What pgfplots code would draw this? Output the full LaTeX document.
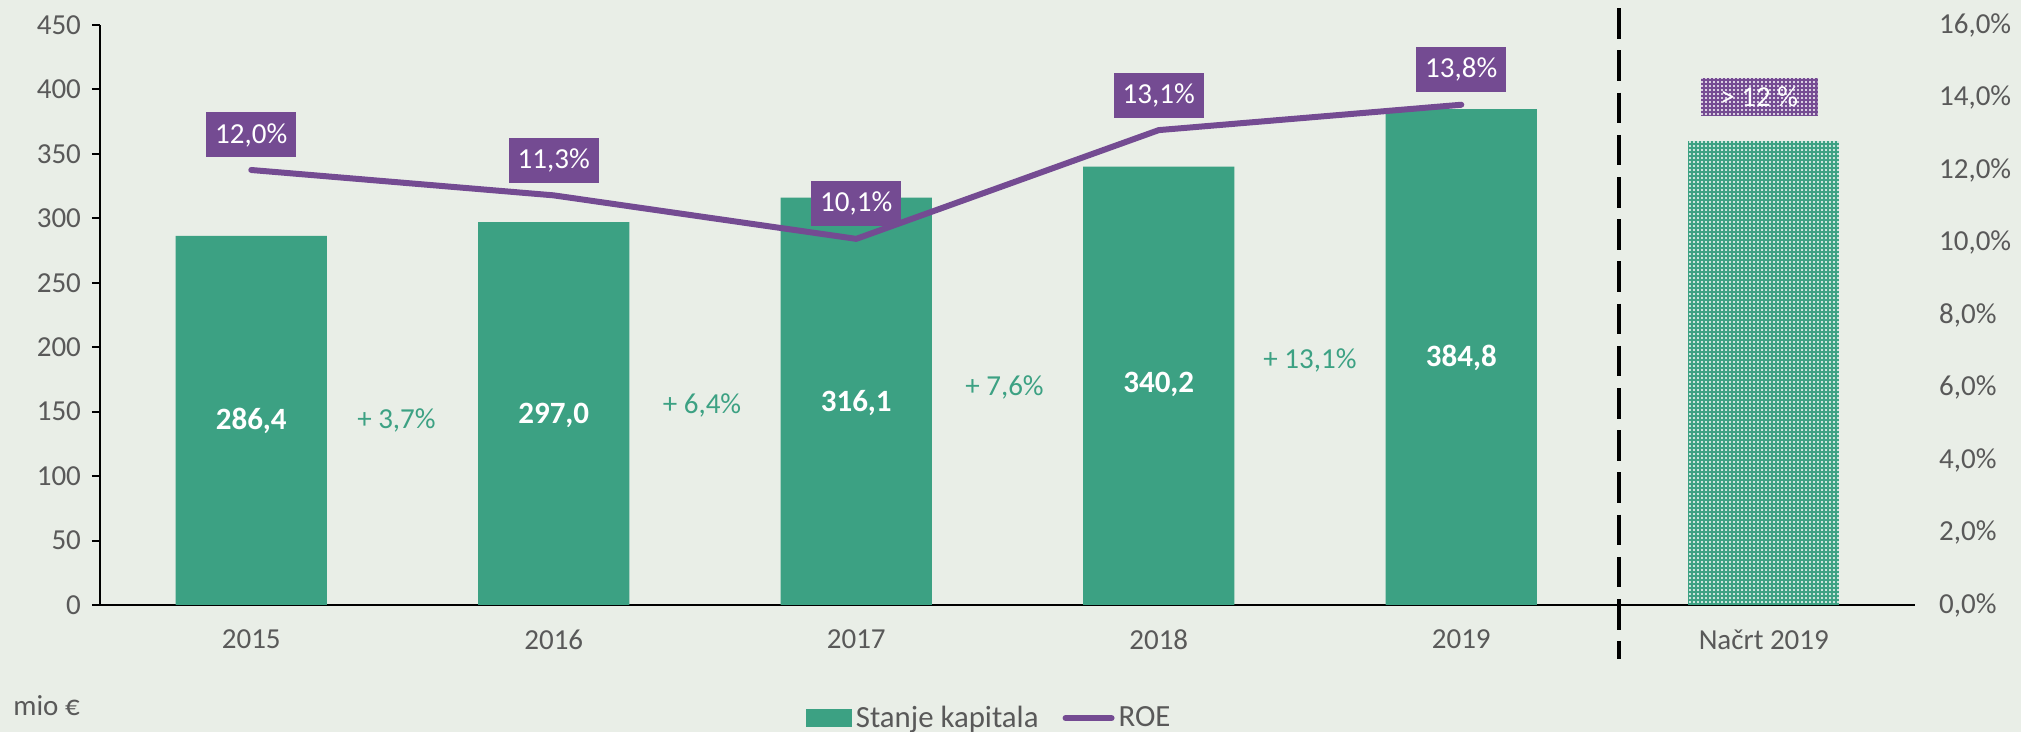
\documentclass[border=0pt]{standalone}
\usepackage{pgfplots}
\pgfplotsset{compat=1.18}
\usepackage{fontspec}
\setmainfont{Carlito}
\usetikzlibrary{patterns}
\definecolor{bg}{HTML}{E9EEE7}
\definecolor{bargreen}{HTML}{3CA183}
\definecolor{roepurple}{HTML}{744B92}
\definecolor{lbl}{HTML}{595959}
\pgfdeclarepatternformonly{finedots}{\pgfqpoint{-1pt}{-1pt}}{\pgfqpoint{3pt}{3pt}}{\pgfqpoint{2pt}{2pt}}{\pgfpathcircle{\pgfqpoint{1pt}{1pt}}{0.55pt}\pgfusepath{fill}}
\newcommand{\fs}{\fontsize{14.5}{17}\selectfont}

\begin{document}
\begin{tikzpicture}
\path[use as bounding box, fill=bg] (-50pt,-63.5pt) rectangle (960.5pt,302.5pt);
\begin{axis}[
 at={(0,0)}, anchor=south west,
 scale only axis, width=907.5pt, height=290pt,
 xmin=-0.5, xmax=5.5, ymin=0, ymax=450,
 axis x line*=bottom, axis y line*=left,
 axis line style={-, black, line width=1.1pt},
 xtick={0,...,5},
 xticklabels={2015,2016,2017,2018,2019,Načrt 2019},
 xtick style={draw=none},
 xticklabel style={yshift=-5pt},
 yticklabel style={xshift=-2pt},
 ytick={0,50,...,450},
 ytick style={black, line width=1pt},
 tick align=outside, major tick length=4pt,
 tick label style={font=\fs, text=lbl},
 /pgf/number format/assume math mode=true,
 clip=false,
]
\addplot[ybar, bar width=0.5, bar shift=0pt, fill=bargreen, draw=none] coordinates {(0,286.4) (1,297.0) (2,316.1) (3,340.2) (4,384.8)};
\addplot[ybar, bar width=0.5, bar shift=0pt, fill=bargreen, draw=none, postaction={pattern=finedots, pattern color=white}] coordinates {(5,360)};
\addplot[draw=none, nodes near coords, point meta=explicit symbolic,
  nodes near coords style={anchor=center, font=\fontsize{15.5}{18}\selectfont\bfseries, text=white}] table[meta=l] {
x y l
0 143 286,4
1 147 297,0
2 157 316,1
3 171 340,2
4 192 384,8
};
\addplot[draw=none, nodes near coords={+ \pgfplotspointmeta\%}, point meta=explicit symbolic,
  nodes near coords style={anchor=center, font=\fs, text=bargreen}] table[meta=l] {
x y l
0.48 143 3,7
1.49 155 6,4
2.49 169 7,6
3.5 190 13,1
};
\draw[line width=2pt, dash pattern=on 15.3pt off 5.8pt] (axis cs:4.52,463) -- (axis cs:4.52,-41.9);
\node[fill=roepurple, postaction={pattern=finedots, pattern color=white}, text=white, font=\fs, minimum width=58.5pt, minimum height=19pt, inner sep=0pt] at (axis cs:4.985,394) {> 12 \%};
\end{axis}
\begin{axis}[
 at={(0,0)}, anchor=south west,
 scale only axis, width=907.5pt, height=290pt,
 xmin=-0.5, xmax=5.5, ymin=0, ymax=16,
 axis x line=none, axis y line*=right,
 y axis line style={draw=none},
 ytick={0,2,...,16}, ytick style={draw=none},
 yticklabel={\pgfmathprintnumber[fixed,fixed zerofill,precision=1,use comma]{\tick}\%},
 yticklabel style={xshift=8.5pt},
 tick label style={font=\fs, text=lbl},
 /pgf/number format/assume math mode=true,
 clip=false,
 legend style={at={(0.4905,-0.195)}, anchor=center, draw=none, fill=none, font=\fontsize{15.4}{18}\selectfont, text=lbl,
   /tikz/every even column/.append style={column sep=10pt}},
 legend columns=2,
]
\addlegendimage{legend image code/.code={\fill[bargreen] (0pt,-4.25pt) rectangle (22.5pt,4.25pt);}}
\addlegendentry{Stanje kapitala}
\addplot[roepurple, line width=3pt, line cap=round, line join=round,
  legend image code/.code={\draw[roepurple, line width=3pt, line cap=round] (0pt,0pt) -- (23pt,0pt);},
  nodes near coords={\pgfplotspointmeta\%}, point meta=explicit symbolic,
  nodes near coords style={anchor=center, yshift=17.5pt, fill=roepurple, text=white, font=\fs, inner xsep=4.5pt, minimum height=22.5pt}] table[meta=l] {
x y l
0 12.0 12,0
1 11.3 11,3
2 10.1 10,1
3 13.1 13,1
4 13.8 13,8
};
\addlegendentry{ROE}
\end{axis}
\node[anchor=west, font=\fs, text=lbl, inner sep=0pt] at (-43.5pt,-50.5pt) {mio €};
\end{tikzpicture}
\end{document}
